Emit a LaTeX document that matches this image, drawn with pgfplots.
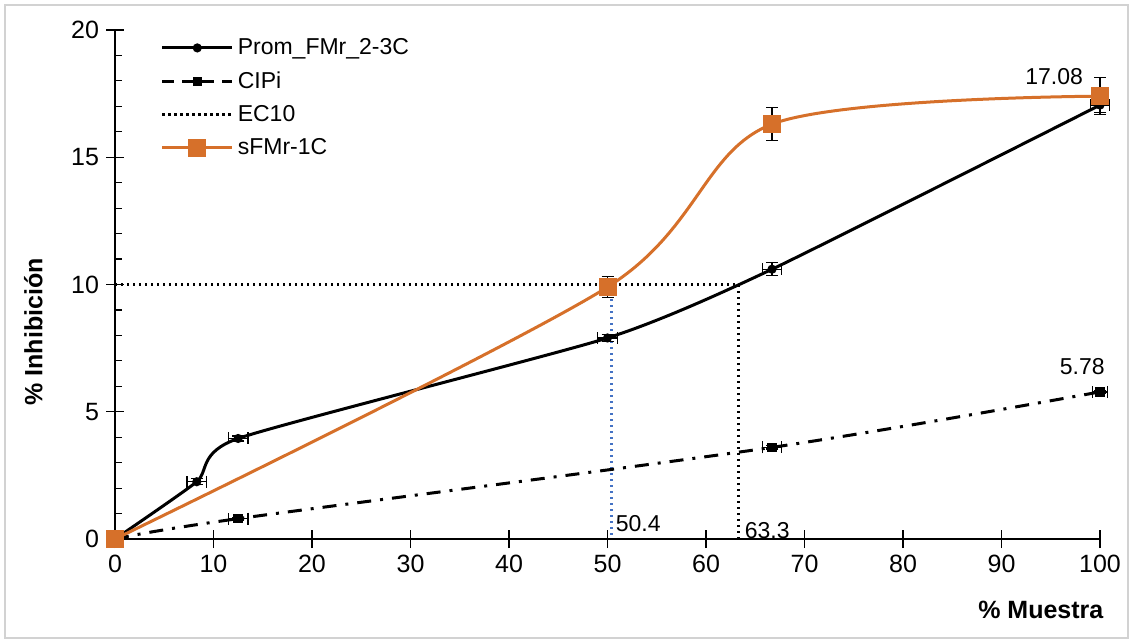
\documentclass[border=0pt]{standalone}
\usepackage{fontspec}
\setmainfont{Liberation Sans}
\usepackage{pgfplots}
\pgfplotsset{compat=1.18}
\definecolor{orng}{RGB}{214,112,42}
\definecolor{blu}{RGB}{68,114,196}
\pgfplotstableread{
x y ex ey
0 0 0 0
8.3 2.25 1.0 0.12
12.5 3.95 1.0 0.1
50 7.9 1.0 0.15
66.7 10.6 1.0 0.25
100 17.05 1.0 0.3
}\prom
\pgfplotstableread{
x y ex ey
0 0 0 0
12.5 0.8 1.0 0.05
66.7 3.6 1.0 0.06
100 5.78 0.8 0.05
}\cipi
\pgfplotstableread{
x y ex ey
0 0 0 0
50 9.9 0 0.42
66.7 16.3 0 0.65
100 17.4 0 0.72
}\sfmr
\begin{document}
\begin{tikzpicture}
\useasboundingbox (0,0) rectangle (566.5pt,321.5pt);
\draw[gray!35, line width=1pt] (2.5pt,2.5pt) rectangle (564pt,319pt);
\begin{axis}[
 at={(57.5pt,52pt)}, anchor=south west,
 scale only axis, width=492.5pt, height=254.5pt,
 xmin=0, xmax=100, ymin=0, ymax=20,
 axis x line=bottom, axis y line=left,
 axis line style={-, line width=0.6pt},
 xtick={0,10,...,100}, ytick={0,5,...,20}, minor y tick num=4,
 tick align=center, major tick length=9pt, minor tick length=3.5pt,
 minor tick style={xshift=1.75pt},
 tick style={black, line width=0.6pt},
 ticklabel style={font=\fontsize{12.5}{14}\selectfont},
 /pgf/number format/assume math mode=true,
 clip=false,
 ylabel={\textbf{\% Inhibición}},
 ylabel style={at={(axis description cs:-0.083,0.407)}, anchor=center, font=\fontsize{12.5}{14}\selectfont},
 xlabel={\textbf{\% Muestra}},
 xlabel style={at={(axis description cs:0.94,-0.14)}, anchor=center, font=\fontsize{12.5}{14}\selectfont},
 legend style={at={(axis description cs:0.04,1.0)}, anchor=north west, draw=none, fill=none,
   font=\fontsize{11.5}{13}\selectfont, row sep=3pt},
 legend cell align=left,
 legend image code/.code={\draw[mark repeat=2,mark phase=2,#1] plot coordinates {(0pt,0pt)(17.5pt,0pt)(35pt,0pt)};},
]
% EC10 lines
\addplot[black, line width=1.2pt, dash pattern=on 1.2pt off 1.8pt, forget plot] coordinates {(0,10) (63.3,10) (63.3,0)};
\addplot[blu, line width=1.2pt, dash pattern=on 1.2pt off 1.8pt, forget plot] coordinates {(50.4,9.9) (50.4,0)};
% CIPi
\addplot[black, line width=1.5pt, smooth, dash pattern=on 7pt off 4.5pt on 1.5pt off 4.5pt,
  mark=square*, mark size=1.6pt, mark options={solid}, forget plot,
  error bars/.cd, x dir=both, x explicit, y dir=both, y explicit, error mark=|,
  error bar style={solid, line width=0.6pt}, error mark options={solid, mark size=3pt, line width=0.6pt}]
  table[x=x, y=y, x error=ex, y error=ey]{\cipi};
% Prom
\addplot[black, line width=1.5pt, smooth, tension=0.35, mark=*, mark size=1.5pt, forget plot,
  error bars/.cd, x dir=both, x explicit, y dir=both, y explicit, error mark=|,
  error bar style={line width=0.6pt}, error mark options={mark size=3pt, line width=0.6pt}]
  table[x=x, y=y, x error=ex, y error=ey]{\prom};
% sFMr
\addplot[orng, line width=1.5pt, smooth, mark=square*, mark size=3.75pt, forget plot,
  error bars/.cd, y dir=both, y explicit, error mark=|,
  error bar style={black, line width=0.6pt}, error mark options={black, mark size=3pt, line width=0.6pt}]
  table[x=x, y=y, y error=ey]{\sfmr};
% legend
\addlegendimage{black, line width=1.5pt, mark=*, mark size=1.5pt}
\addlegendentry{Prom\_FMr\_2-3C}
\addlegendimage{black, line width=1.5pt, dash pattern=on 6pt off 4pt, mark=square*, mark size=1.6pt, mark options={solid}}
\addlegendentry{CIPi}
\addlegendimage{black, line width=1.2pt, dash pattern=on 1.2pt off 1.8pt}
\addlegendentry{EC10}
\addlegendimage{orng, line width=1.5pt, mark=square*, mark size=3.75pt}
\addlegendentry{sFMr-1C}
% labels
\node[anchor=south east, font=\fontsize{11.5}{13}\selectfont, inner sep=1pt] at (axis cs:98.5,17.75) {17.08};
\node[anchor=south, font=\fontsize{11.5}{13}\selectfont, inner sep=1pt] at (axis cs:98.2,6.35) {5.78};
\node[anchor=south west, font=\fontsize{11.5}{13}\selectfont, inner sep=1pt] at (axis cs:50.6,0.2) {50.4};
\node[anchor=south west, font=\fontsize{11.5}{13}\selectfont, inner sep=1pt] at (axis cs:63.7,-0.1) {63.3};
\end{axis}
\end{tikzpicture}
\end{document}
